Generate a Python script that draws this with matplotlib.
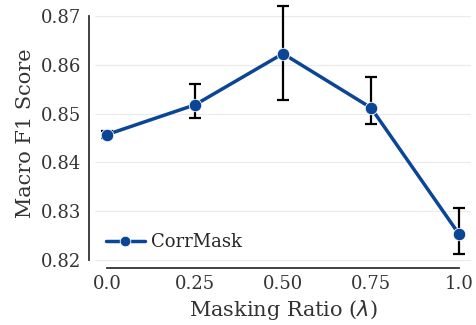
import numpy as np
import matplotlib
matplotlib.use("Agg")
import matplotlib.pyplot as plt
import seaborn as sns

ratios = [0.0, 0.25, 0.50, 0.75, 1.0]
tick_labels = ["0.0", "0.25", "0.50", "0.75", "1.0"]
f1_mean = [0.8457, 0.8518, 0.8623, 0.8512, 0.8253]
err_low = [0.0007, 0.0027, 0.0095, 0.0034, 0.0041]
err_high = [0.0007, 0.0043, 0.0098, 0.0063, 0.0053]

sns.set_style("whitegrid")
plt.rcParams["font.family"] = ["DejaVu Serif"]

fig, ax = plt.subplots(figsize=(4.76, 3.25), dpi=100)
color = "#0b4596"

ax.errorbar(ratios, f1_mean, yerr=[err_low, err_high], fmt="none",
            ecolor="black", elinewidth=1.6, capsize=4, capthick=1.6, zorder=2)
ax.plot(ratios, f1_mean, "-o", color=color, lw=2.5, ms=9,
        mec="white", mew=0.6, label="CorrMask", zorder=3)

ax.set_xticks(ratios)
ax.set_xticklabels(tick_labels)
ax.set_yticks([0.82, 0.83, 0.84, 0.85, 0.86, 0.87])
ax.set_xlim(-0.035, 1.035)
ax.set_ylim(0.8195, 0.8725)
ax.grid(axis="x", visible=False)
ax.grid(axis="y", color="#ebebeb", lw=0.8)
ax.tick_params(labelsize=13, colors="#333333", length=0)
ax.tick_params(axis="y", pad=6)
ax.tick_params(axis="x", pad=5)
ax.set_xlabel("Masking Ratio ($\\lambda$)", fontsize=15, color="#333333")
ax.set_ylabel("Macro F1 Score", fontsize=15, color="#333333")
for s in ["left", "bottom"]:
    ax.spines[s].set_color("#333333")
    ax.spines[s].set_linewidth(1.3)
sns.despine(ax=ax, offset=4, trim=True)

ax.legend(loc="lower left", frameon=False, fontsize=13, handlelength=2.2,
          handletextpad=0.3, borderaxespad=0.2, markerscale=0.85)

fig.subplots_adjust(left=0.199, right=0.990, top=0.988, bottom=0.193)
fig.savefig("out.png", dpi=100)
